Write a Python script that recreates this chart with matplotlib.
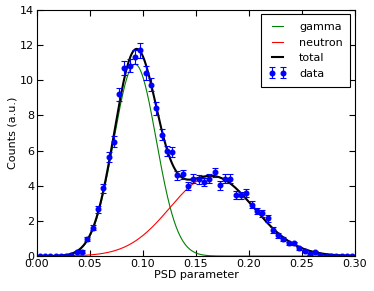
import numpy as np
import matplotlib
matplotlib.use("Agg")
import matplotlib.pyplot as plt

# ---- data ----
psd_bins = [0.0025, 0.0075, 0.0125, 0.0175, 0.0225, 0.0275, 0.0325, 0.0375, 0.0425, 0.0475,
            0.0525, 0.0575, 0.0625, 0.0675, 0.0725, 0.0775, 0.0825, 0.0875, 0.0925, 0.0975,
            0.1025, 0.1075, 0.1125, 0.1175, 0.1225, 0.1275, 0.1325, 0.1375, 0.1425, 0.1475,
            0.1525, 0.1575, 0.1625, 0.1675, 0.1725, 0.1775, 0.1825, 0.1875, 0.1925, 0.1975,
            0.2025, 0.2075, 0.2125, 0.2175, 0.2225, 0.2275, 0.2325, 0.2375, 0.2425, 0.2475,
            0.2525, 0.2575, 0.2625, 0.2675, 0.2725, 0.2775, 0.2825, 0.2875, 0.2925, 0.2975]
counts = [0, 0, 0, 0, 0, 0, 0.05, 0.22, 0.26, 0.95,
          1.61, 2.66, 3.85, 5.62, 6.5, 9.2, 10.68, 10.83, 11.3, 11.7,
          10.43, 9.75, 8.4, 6.9, 5.98, 5.94, 4.6, 4.65, 3.98, 4.4,
          4.36, 4.21, 4.4, 4.76, 4.02, 4.4, 4.4, 3.49, 3.45, 3.6,
          2.92, 2.56, 2.43, 2.14, 1.48, 1.18, 0.99, 0.72, 0.72, 0.44,
          0.3, 0.11, 0.25, 0.06, 0.02, 0, 0, 0, 0, 0]
errors = [0, 0, 0, 0, 0, 0, 0.03, 0.06, 0.06, 0.12,
          0.15, 0.2, 0.24, 0.28, 0.31, 0.36, 0.39, 0.39, 0.4, 0.41,
          0.39, 0.37, 0.35, 0.31, 0.29, 0.29, 0.26, 0.26, 0.24, 0.25,
          0.25, 0.25, 0.25, 0.26, 0.24, 0.25, 0.25, 0.22, 0.22, 0.23,
          0.2, 0.19, 0.19, 0.18, 0.15, 0.13, 0.12, 0.1, 0.1, 0.08,
          0.07, 0.04, 0.06, 0.03, 0.02, 0, 0, 0, 0, 0]

# fitted Gaussian components (amplitude, mean, sigma)
gamma_amp, gamma_mu, gamma_sigma = 10.91, 0.0925, 0.020
neutron_amp, neutron_mu, neutron_sigma = 4.55, 0.165, 0.0395

x_ticks = [0.00, 0.05, 0.10, 0.15, 0.20, 0.25, 0.30]
y_ticks = [0, 2, 4, 6, 8, 10, 12, 14]

def gauss(x, a, mu, s):
    return a * np.exp(-(x - mu) ** 2 / (2 * s ** 2))

xs = np.linspace(0, 0.3, 600)
g = gauss(xs, gamma_amp, gamma_mu, gamma_sigma)
n = gauss(xs, neutron_amp, neutron_mu, neutron_sigma)

plt.rcParams['font.family'] = ['DejaVu Sans']
fig = plt.figure(figsize=(3.74, 2.91), dpi=100, facecolor='white')
ax = fig.add_axes([0.099, 0.120, 0.850, 0.846])

ax.plot(xs, g, color='green', lw=0.8, label='gamma')
ax.plot(xs, n, color='red', lw=0.8, label='neutron')
ax.plot(xs, g + n, color='black', lw=1.5, label='total')
ax.errorbar(psd_bins, counts, yerr=errors, fmt='o', color='blue', ms=3.3,
            mec='blue', ecolor='blue', elinewidth=0.8, capsize=2, capthick=0.8,
            label='data')

ax.set_xlim(0, 0.3)
ax.set_ylim(0, 14)
ax.set_xticks(x_ticks)
ax.set_xticklabels([f"{t:.2f}" for t in x_ticks])
ax.set_yticks(y_ticks)
ax.tick_params(direction='in', top=True, right=True, labelsize=8, length=4, pad=2)
ax.set_xlabel('PSD parameter', fontsize=8, labelpad=1)
ax.set_ylabel('Counts (a.u.)', fontsize=8, labelpad=2)

leg = ax.legend(loc='upper right', fontsize=8, numpoints=2, fancybox=False,
                framealpha=1, edgecolor='black', handlelength=1.6,
                handletextpad=1.1, borderaxespad=0.4, labelspacing=0.5,
                borderpad=0.7)
leg.get_frame().set_linewidth(0.8)

fig.savefig('out.png', dpi=100, facecolor='white')
